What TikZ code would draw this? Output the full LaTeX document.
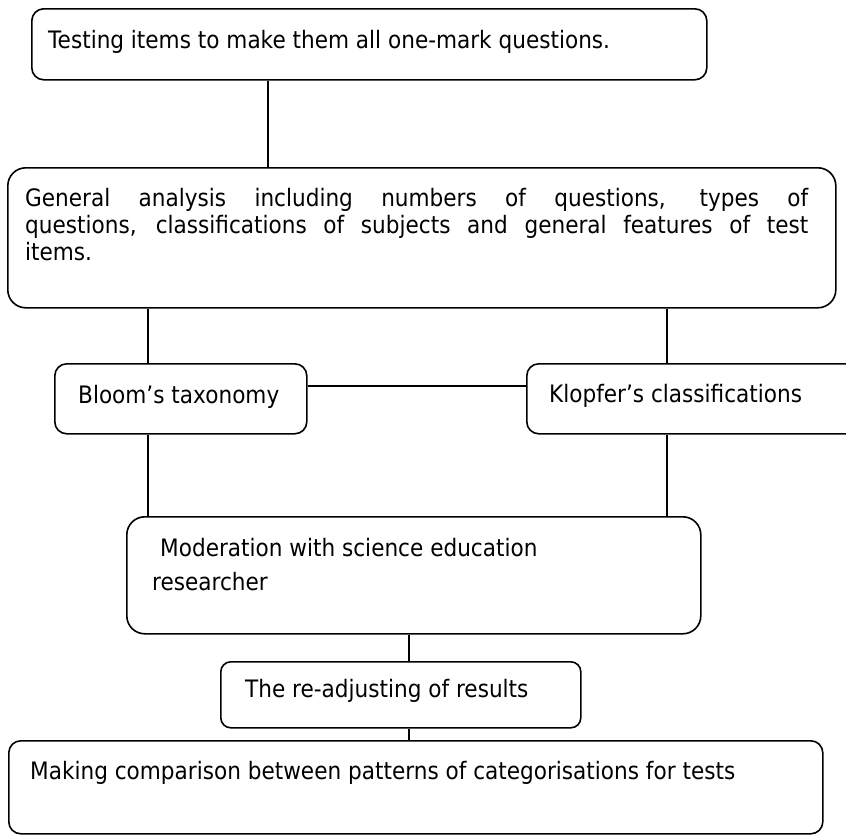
\documentclass[tikz,border=0pt]{standalone}
\usepackage{fontspec}
\setmainfont{DejaVu Sans}[FakeStretch=0.9]
\begin{document}
\begin{tikzpicture}[x=1pt,y=-1pt,
  box/.style={draw=black,line width=1.6pt,rounded corners=#1,anchor=north west,inner sep=0pt},
  box/.default=12pt,
  txt/.style={anchor=base west,inner sep=0pt,font=\fontsize{24pt}{26pt}\selectfont},
  link/.style={draw=black,line width=1.2pt}]
\useasboundingbox (0,0) rectangle (846,835);
% boxes
\node[box] (b1) at (31,8) [minimum width=675pt,minimum height=71pt] {};
\node[box=18pt] (b2) at (7,167) [minimum width=828pt,minimum height=140pt] {};
\node[box] (bl) at (54,363) [minimum width=252pt,minimum height=70pt] {};
\node[box] (kl) at (526,363) [minimum width=340pt,minimum height=70pt] {};
\node[box=18pt] (md) at (126,516) [minimum width=574pt,minimum height=117pt] {};
\node[box=10pt] (ra) at (220,661) [minimum width=360pt,minimum height=66pt] {};
\node[box] (mk) at (8,740) [minimum width=814pt,minimum height=93pt] {};
% texts
\node[txt] (t1) at (48,48) {Testing items to make them all one-mark questions.};
\node[txt] (t2a) at (25,206) {\makebox[783pt][s]{General analysis including numbers of questions, types of}};
\node[txt] (t2b) at (25,233) {\makebox[783pt][s]{questions, classifications of subjects and general features of test}};
\node[txt] (t2c) at (25,260) {items.};
\node[txt] (tbl) at (78,403) {Bloom’s taxonomy};
\node[txt] (tkl) at (549,402) {Klopfer’s classifications};
\node[txt] (tm1) at (160,556) {Moderation with science education};
\node[txt] (tm2) at (152,590) {researcher};
\node[txt] (tra) at (245,697) {The re-adjusting of results};
\node[txt] (tmk) at (30,779) {Making comparison between patterns of categorisations for tests};
% connector positions
\coordinate (xa) at (268,0);
\coordinate (xb) at (148,0);
\coordinate (xc) at (667,0);
\coordinate (xd) at (409,0);
\coordinate (yh) at (0,386);
% connectors
\draw[link] (xa |- b1.south) -- (xa |- b2.north);
\draw[link] (xb |- b2.south) -- (xb |- bl.north);
\draw[link] (xc |- b2.south) -- (xc |- kl.north);
\draw[link] (bl.east |- yh) -- (kl.west |- yh);
\draw[link] (xb |- bl.south) -- (xb |- md.north);
\draw[link] (xc |- kl.south) -- (xc |- md.north);
\draw[link] (xd |- md.south) -- (xd |- ra.north);
\draw[link] (xd |- ra.south) -- (xd |- mk.north);
\end{tikzpicture}
\end{document}
